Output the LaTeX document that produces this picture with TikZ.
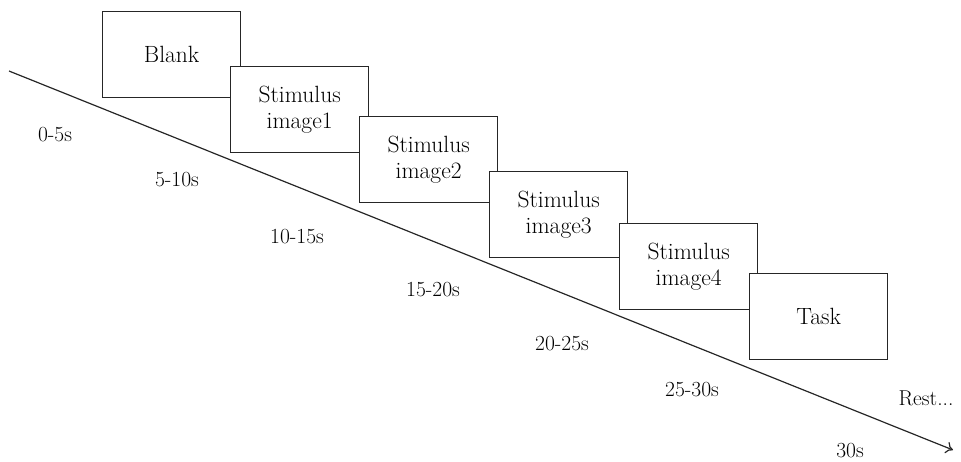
\documentclass[tikz,border=0pt]{standalone}
\usetikzlibrary{arrows.meta}
\begin{document}
\begin{tikzpicture}[x=1pt,y=-1pt,
  frame/.style={draw=black!85,fill=white,line width=1.3pt,rectangle,anchor=north west,
    minimum width=138pt,minimum height=86pt,inner sep=0pt,align=center,
    font=\fontsize{23.5}{26}\selectfont},
  timelbl/.style={font=\fontsize{21.5}{24}\selectfont,inner sep=0pt},
  axis/.style={line width=1.2pt,draw=black!85,-{To[length=7pt,width=12pt]}}]
\useasboundingbox (0,0) rectangle (961,461);
\coordinate (start) at (9,71);
\coordinate (end) at (953,450);
\draw[axis] (start) -- (end);
\node[frame] (blank) at (102,11) {Blank};
\node[frame] (s1) at (230,66) {Stimulus\\image1};
\node[frame] (s2) at (359,116) {Stimulus\\image2};
\node[frame] (s3) at (489,171) {Stimulus\\image3};
\node[frame] (s4) at (619,223) {Stimulus\\image4};
\node[frame] (task) at (749,273) {Task};
\node[timelbl] (t0) at (55,135) {0-5s};
\node[timelbl] (t1) at (177,180) {5-10s};
\node[timelbl] (t2) at (297,237) {10-15s};
\node[timelbl] (t3) at (433,290) {15-20s};
\node[timelbl] (t4) at (562,344) {20-25s};
\node[timelbl] (t5) at (692,390) {25-30s};
\node[timelbl] (rest) at (926,398) {Rest...};
\node[timelbl] (t6) at (850,451) {30s};
\end{tikzpicture}
\end{document}
